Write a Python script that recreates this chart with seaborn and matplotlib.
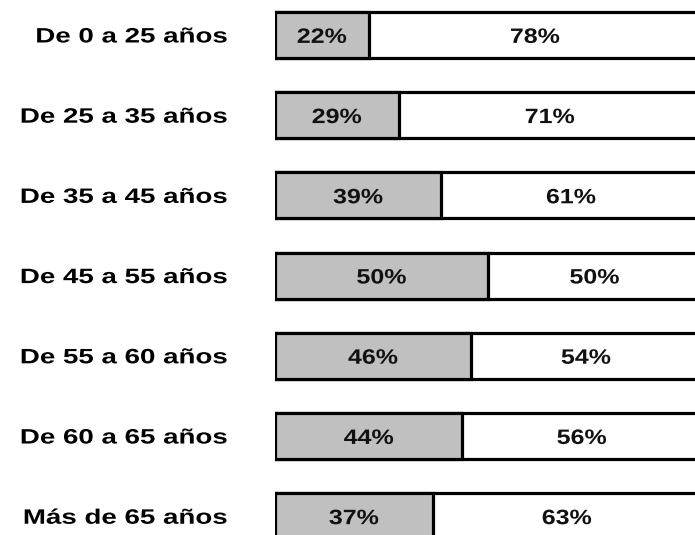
import matplotlib
matplotlib.use("Agg")
import matplotlib.pyplot as plt
import matplotlib.patheffects as pe
from matplotlib.transforms import Affine2D
import seaborn as sns
import pandas as pd

categories = ["De 0 a 25 años", "De 25 a 35 años", "De 35 a 45 años",
              "De 45 a 55 años", "De 55 a 60 años", "De 60 a 65 años",
              "Más de 65 años"]
gray_values = [22, 29, 39, 50, 46, 44, 37]
white_values = [78, 71, 61, 50, 54, 56, 63]

sns.set_style("white")
plt.rcParams['font.family'] = ['Liberation Sans', 'DejaVu Sans']


class Stretch(pe.AbstractPathEffect):
    """Widen glyphs horizontally around an anchor (center or right)."""
    def __init__(self, sx, anchor="center"):
        super().__init__()
        self.sx = sx
        self.anchor = anchor

    def draw_path(self, renderer, gc, tpath, affine, rgbFace=None):
        ext = tpath.get_extents()
        if self.anchor == "right":
            cx = ext.x1
        elif self.anchor == "left":
            cx = ext.x0
        else:
            cx = (ext.x0 + ext.x1) / 2
        tr = Affine2D().translate(-cx, 0).scale(self.sx, 1).translate(cx, 0) + affine
        renderer.draw_path(gc, tpath, tr, rgbFace)


df = pd.DataFrame({"cat": categories, "gray": gray_values, "white": white_values})
df["total"] = df["gray"] + df["white"]

fig = plt.figure(figsize=(6.95, 5.35), dpi=100)
W, H = 695, 535
ax = fig.add_axes([275 / W, 0, 426 / W, 1])

bw = 0.574
lw = 2.3
sns.barplot(data=df, x="total", y="cat", orient="h", color="white",
            edgecolor="black", linewidth=lw, width=bw, ax=ax, saturation=1)
sns.barplot(data=df, x="gray", y="cat", orient="h", color="#C0C0C0",
            edgecolor="black", linewidth=lw, width=bw, ax=ax, saturation=1)

ax.set_xlim(0, 100)
ax.set_ylim(6.234, -0.436)
for s in ax.spines.values():
    s.set_visible(False)
ax.set_xticks([])
ax.set_xlabel("")
ax.set_ylabel("")
ax.tick_params(axis="y", length=0, pad=34)
ax.set_yticks(range(len(categories)))
ax.set_yticklabels(categories, fontsize=15, fontweight="bold", color="black")
for lab in ax.get_yticklabels():
    lab.set_path_effects([Stretch(1.33, "right")])

fs = 15
for i, (g, w) in enumerate(zip(gray_values, white_values)):
    ax.text(g / 2, i + 0.03, f"{g}%", ha="center", va="center",
            fontsize=fs, fontweight="bold", color="#111111",
            path_effects=[Stretch(1.2, "center")])
    ax.text(g + w / 2, i + 0.03, f"{w}%", ha="center", va="center",
            fontsize=fs, fontweight="bold", color="#111111",
            path_effects=[Stretch(1.2, "center")])

fig.savefig("out.png", dpi=100)
